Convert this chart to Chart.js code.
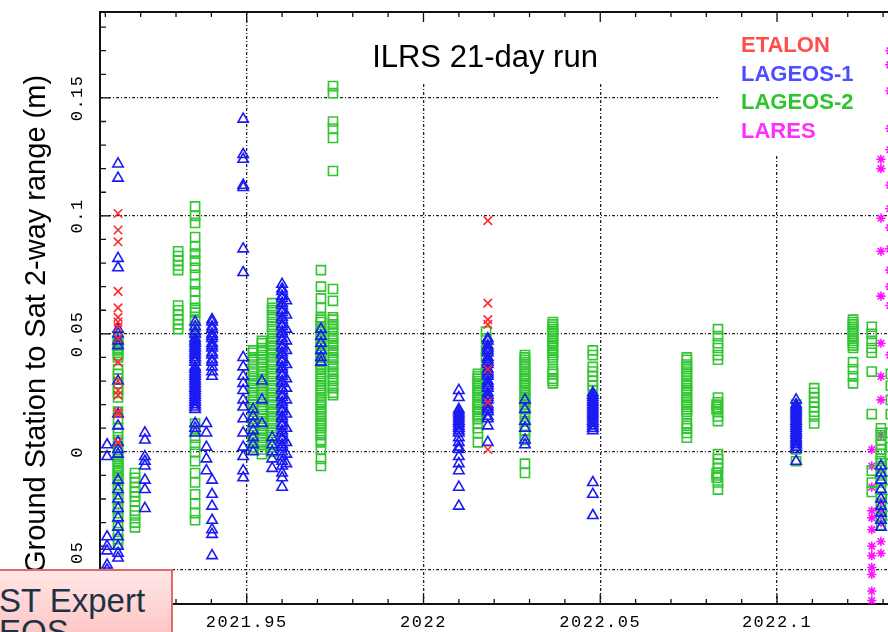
<!DOCTYPE html>
<html>
<head>
<meta charset="utf-8">
<title>ILRS 21-day run</title>
<script src="https://cdn.jsdelivr.net/npm/chart.js@4.4.1/dist/chart.umd.min.js"></script>
<style>
  html, body { margin: 0; padding: 0; background: #fff; overflow: hidden; }
  #wrap { position: relative; width: 888px; height: 632px; overflow: hidden; }
  #chartCanvas { position: absolute; left: 0; top: 0; }
  #badge {
    position: absolute; left: -4px; top: 569px; width: 177px; height: 80px;
    box-sizing: border-box; border: 2px solid #e46a6a;
    background: linear-gradient(#ffe6e6, #ffc0c0);
    font-family: "Liberation Sans", Arial, sans-serif; color: #1d3344;
    font-size: 33px; line-height: 33px; white-space: nowrap;
  }
  #badge span { position: absolute; left: 1px; }
</style>
</head>
<body>
<div id="wrap">
  <canvas id="chartCanvas" width="960" height="632"></canvas>
  <div id="badge"><span style="top:13px">ST Expert</span><span style="top:44px">EOS</span></div>
</div>
<script>
// values: [decimal year, [range residuals in m]]
const etalon = [
  [2021.9136, [0.101, 0.094, 0.089, 0.068, 0.061, 0.057, 0.055, 0.053, 0.048, 0.038, 0.030, 0.026, 0.024, 0.017, 0.016, 0.004]],
  [2022.0182, [0.098, 0.063, 0.056, 0.054, 0.035, 0.021, 0.001]]
];

const lageos1 = [
  [2021.9105, [0.003, -0.002, -0.036, -0.040, -0.042, -0.048, -0.050]],
  [2021.9136, [0.122, 0.116, 0.082, 0.078, 0.052, 0.050, 0.047, 0.045, 0.030, 0.016, 0.011, 0.004, 0.001, -0.001, -0.012, -0.016, -0.020, -0.024, -0.028, -0.032, -0.036, -0.040, -0.043, -0.045]],
  [2021.9212, [0.008, 0.005, -0.002, -0.004, -0.006, -0.012, -0.016, -0.024]],
  [2021.9354, [0.055, 0.053, 0.051, 0.050, 0.048, 0.047, 0.046, 0.045, 0.044, 0.043, 0.042, 0.041, 0.040, 0.039, 0.038, 0.036, 0.035, 0.034, 0.033, 0.032, 0.031, 0.030, 0.029, 0.028, 0.027, 0.026, 0.025, 0.024, 0.023, 0.022, 0.021, 0.020, 0.019, 0.018, 0.012, 0.010, 0.008]],
  [2021.9402, [0.056, 0.055, 0.053, 0.052, 0.050, 0.049, 0.048, 0.046, 0.045, 0.044, 0.042, 0.041, 0.039, 0.038, 0.036, 0.034, 0.032, -0.012, -0.018, -0.023, -0.029, -0.033, -0.035, -0.044]],
  [2021.9386, [0.012, 0.008, 0.002, -0.003, -0.008]],
  [2021.9490, [0.141, 0.126, 0.124, 0.113, 0.112, 0.086, 0.076, 0.040, 0.036, 0.032, 0.029, 0.026, 0.022, 0.019, 0.014, 0.008, 0.002, -0.002, -0.008, -0.011]],
  [2021.9518, [0.018, 0.015, 0.012, 0.009, 0.006, 0.003, 0.000]],
  [2021.9543, [0.030, 0.022, 0.012]],
  [2021.9572, [0.006, 0.003, 0.000, -0.003, -0.007]],
  [2021.9600, [0.071, 0.069, 0.068, 0.066, 0.065, 0.063, 0.062, 0.060, 0.059, 0.057, 0.056, 0.054, 0.053, 0.051, 0.050, 0.048, 0.047, 0.045, 0.044, 0.042, 0.041, 0.039, 0.038, 0.036, 0.035, 0.033, 0.032, 0.030, 0.029, 0.027, 0.026, 0.024, 0.023, 0.021, 0.020, 0.018, 0.017, 0.015, 0.014, 0.012, 0.011, 0.009, 0.008, 0.006, 0.005, 0.003, 0.002, 0.000, -0.002, -0.004, -0.006, -0.009, -0.011, -0.015]],
  [2021.9612, [0.064, 0.058, 0.052, 0.047, 0.043, 0.037, 0.031, 0.027, 0.022, 0.016, 0.010, 0.004, -0.001, -0.005]],
  [2021.9710, [0.052, 0.049, 0.046, 0.043, 0.040, 0.038]],
  [2022.0100, [0.026, 0.023, 0.018, 0.017, 0.016, 0.015, 0.014, 0.013, 0.012, 0.011, 0.010, 0.009, 0.008, 0.006, 0.004, 0.002, 0.001, -0.002, -0.005, -0.008, -0.015, -0.023]],
  [2022.0182, [0.048, 0.047, 0.045, 0.044, 0.043, 0.042, 0.040, 0.039, 0.038, 0.037, 0.035, 0.034, 0.033, 0.032, 0.030, 0.029, 0.028, 0.027, 0.025, 0.024, 0.023, 0.022, 0.020, 0.019, 0.018, 0.017, 0.015, 0.014, 0.011, 0.004]],
  [2022.0287, [0.022, 0.018, 0.013, 0.010, 0.005, 0.003]],
  [2022.0479, [0.025, 0.024, 0.023, 0.022, 0.021, 0.020, 0.019, 0.018, 0.017, 0.016, 0.015, 0.014, 0.013, 0.012, 0.011, 0.010, 0.009, -0.013, -0.018, -0.027]],
  [2022.1054, [0.022, 0.020, 0.019, 0.018, 0.017, 0.016, 0.015, 0.014, 0.013, 0.012, 0.011, 0.010, 0.009, 0.008, 0.007, 0.006, 0.005, 0.004, 0.003, 0.002, 0.001, -0.004]],
  [2022.1294, [-0.006, -0.009, -0.012, -0.016, -0.020, -0.023, -0.026, -0.029, -0.032]]
];

const lageos2 = [
  [2021.9136, [0.048, 0.047, 0.046, 0.045, 0.044, 0.043, 0.042, 0.041, 0.040, 0.035, 0.033, 0.031, 0.029, 0.027, 0.025, 0.023, 0.017, 0.014, 0.010, 0.008, 0.005, 0.002, 0.000, -0.002, -0.003, -0.004, -0.005, -0.006, -0.007, -0.008, -0.009, -0.010, -0.011, -0.012, -0.014, -0.016, -0.018, -0.020, -0.022, -0.024, -0.026, -0.028, -0.031, -0.034, -0.037, -0.039]],
  [2021.9184, [-0.009, -0.011, -0.013, -0.015, -0.017, -0.019, -0.021, -0.025, -0.027, -0.030, -0.032]],
  [2021.9306, [0.085, 0.083, 0.081, 0.079, 0.077, 0.062, 0.060, 0.058, 0.056, 0.054, 0.052]],
  [2021.9354, [0.104, 0.100, 0.097, 0.091, 0.087, 0.084, 0.081, 0.078, 0.075, 0.071, 0.068, 0.064, 0.061, 0.059, 0.056, 0.053, 0.050, 0.047, 0.012, 0.009, 0.006, 0.003, 0.000, -0.004, -0.009, -0.013, -0.018, -0.022, -0.026, -0.029]],
  [2021.9518, [0.043, 0.042, 0.040, 0.039, 0.037, 0.035, 0.034, 0.032, 0.030, 0.029, 0.027, 0.025, 0.024, 0.022, 0.020, 0.019, 0.017, 0.015, 0.014, 0.012, 0.010, 0.009, 0.007, 0.005, 0.004, 0.002, 0.001]],
  [2021.9543, [0.047, 0.046, 0.044, 0.043, 0.041, 0.039, 0.038, 0.036, 0.034, 0.033, 0.031, 0.029, 0.028, 0.026, 0.024, 0.023, 0.021, 0.019, 0.018, 0.016, 0.014, 0.013, 0.011, 0.009, 0.008, 0.006, 0.004, 0.003, 0.001, -0.001]],
  [2021.9572, [0.063, 0.061, 0.060, 0.058, 0.057, 0.055, 0.053, 0.052, 0.050, 0.048, 0.047, 0.045, 0.043, 0.042, 0.040, 0.038, 0.037, 0.035, 0.033, 0.032, 0.030, 0.028, 0.027, 0.025, 0.023, 0.022, 0.020, 0.018, 0.017, 0.015, 0.013, 0.012, 0.010, 0.008, 0.007, 0.005, 0.003, 0.002, 0.000]],
  [2021.9710, [0.077, 0.070, 0.065, 0.061, 0.057, 0.056, 0.055, 0.053, 0.052, 0.051, 0.050, 0.048, 0.047, 0.046, 0.045, 0.043, 0.042, 0.041, 0.040, 0.038, 0.037, 0.036, 0.035, 0.033, 0.032, 0.031, 0.030, 0.028, 0.027, 0.026, 0.025, 0.023, 0.022, 0.021, 0.020, 0.018, 0.017, 0.016, 0.015, 0.013, 0.012, 0.011, 0.010, 0.008, 0.007, 0.005, 0.004, 0.001, -0.003, -0.006]],
  [2021.9744, [0.155, 0.152, 0.140, 0.137, 0.133, 0.119, 0.069, 0.064, 0.057, 0.056, 0.054, 0.052, 0.051, 0.049, 0.048, 0.046, 0.045, 0.043, 0.042, 0.040, 0.039, 0.037, 0.036, 0.034, 0.033, 0.031, 0.030, 0.028, 0.027, 0.025, 0.024]],
  [2022.0154, [0.033, 0.032, 0.031, 0.030, 0.029, 0.028, 0.027, 0.026, 0.025, 0.024, 0.023, 0.022, 0.021, 0.020, 0.019, 0.018, 0.017, 0.016, 0.015, 0.014, 0.012, 0.010, 0.008, 0.004]],
  [2022.0177, [0.051, 0.048, 0.043, 0.040, 0.035, 0.033]],
  [2022.0287, [0.041, 0.040, 0.039, 0.038, 0.037, 0.036, 0.035, 0.034, 0.033, 0.032, 0.031, 0.030, 0.029, 0.028, 0.027, 0.026, 0.025, 0.024, 0.023, 0.022, 0.021, 0.020, 0.019, 0.018, 0.016, 0.013, 0.011, 0.009, 0.007, 0.005, -0.005, -0.009]],
  [2022.0366, [0.055, 0.054, 0.053, 0.052, 0.051, 0.050, 0.049, 0.048, 0.047, 0.046, 0.045, 0.044, 0.043, 0.042, 0.041, 0.040, 0.039, 0.035, 0.034, 0.033, 0.031, 0.030, 0.029]],
  [2022.0479, [0.043, 0.041, 0.036, 0.034, 0.032, 0.030, 0.028, 0.026]],
  [2022.0745, [0.040, 0.039, 0.037, 0.036, 0.035, 0.034, 0.033, 0.032, 0.030, 0.029, 0.028, 0.027, 0.026, 0.025, 0.023, 0.022, 0.021, 0.020, 0.019, 0.018, 0.017, 0.016, 0.012, 0.011, 0.010, 0.008, 0.006]],
  [2022.0833, [0.052, 0.049, 0.046, 0.044, 0.041, 0.039, 0.023, 0.021, 0.019, 0.017, 0.015, 0.013, -0.001, -0.003, -0.005, -0.007, -0.010, -0.013, -0.016]],
  [2022.0829, [0.020, 0.018, -0.009, -0.011]],
  [2022.1054, [0.020, 0.016, 0.012, 0.008, 0.004, 0.001, -0.004]],
  [2022.1105, [0.027, 0.025, 0.023, 0.021, 0.019, 0.017, 0.015, 0.012]],
  [2022.1215, [0.056, 0.055, 0.054, 0.053, 0.052, 0.051, 0.050, 0.049, 0.048, 0.047, 0.046, 0.045, 0.044, 0.038, 0.035, 0.032, 0.029]],
  [2022.1268, [0.053, 0.050, 0.047, 0.044, 0.042, 0.034, 0.016, -0.008, -0.013, -0.017]],
  [2022.1294, [0.010, 0.008, 0.007, 0.005, 0.003, 0.001, -0.001, -0.003, -0.004, -0.006, -0.007, -0.010, -0.013, -0.016, -0.019, -0.022, -0.025, -0.028, -0.031]],
  [2022.1322, [0.033, 0.028, 0.022, 0.016, 0.008, 0.002, -0.005, -0.012, -0.020, -0.027]]
];

const lares = [
  [2022.1268, [0.001, -0.006, -0.015, -0.025, -0.028, -0.033, -0.040, -0.044, -0.049, -0.052, -0.059, -0.063]],
  [2022.1294, [0.124, 0.120, 0.099, 0.085, 0.066, 0.046, 0.032, 0.022, 0.007, -0.021, -0.026, -0.030, -0.038, -0.043]],
  [2022.1319, [0.170, 0.164, 0.153, 0.137, 0.128, 0.113, 0.103, 0.095, 0.086, 0.077, 0.070, 0.062, 0.041]]
];

const seriesNames = ['ETALON', 'LAGEOS-1', 'LAGEOS-2', 'LARES'];
const xTickLabels = ['2021.95', '2022', '2022.05', '2022.1'];
const yTickLabels = ['-0.05', '0', '0.05', '0.1', '0.15'];
const chartTitle = 'ILRS 21-day run';
const yAxisTitle = 'Ground Station to Sat 2-way range (m)';

const seriesColors = ['#ff2a2a', '#1a1af2', '#30c630', '#ff10ff'];
const legendColors = ['#ff4d4d', '#4d4dff', '#2ec42e', '#ff2eff'];

function toPoints(groups) {
  return groups.flatMap(([x, ys]) => ys.map(y => ({ x: x, y: y })));
}

function fmt(v) {
  return String(Math.round(v * 100) / 100);
}

function isMajor(v) {
  return Math.round(v * 100) % 5 === 0;
}

const tickFont = { family: '"Liberation Mono", "DejaVu Sans Mono", monospace', size: 17 };

// frame, inward tick marks, white boxes behind title/legend, texts
const framePlugin = {
  id: 'frame',
  beforeDraw(chart) {
    chart.ctx.letterSpacing = '1.5px';
  },
  beforeDatasetsDraw(chart) {
    const { ctx, chartArea: a, scales } = chart;
    ctx.letterSpacing = '0px';
    ctx.save();
    ctx.fillStyle = '#fff';
    ctx.fillRect(340, a.top + 1, 378, 70);
    ctx.fillRect(718, a.top + 1, a.right - 718, 141);

    ctx.strokeStyle = '#111';
    ctx.lineWidth = 1.3;
    ctx.beginPath();
    scales.x.ticks.forEach(t => {
      const px = scales.x.getPixelForValue(t.value);
      const len = isMajor(t.value) ? 10 : 5;
      ctx.moveTo(px, a.bottom);
      ctx.lineTo(px, a.bottom - len);
      ctx.moveTo(px, a.top);
      ctx.lineTo(px, a.top + len);
    });
    scales.y.ticks.forEach(t => {
      const py = scales.y.getPixelForValue(t.value);
      const len = isMajor(t.value) ? 10 : 6;
      ctx.moveTo(a.left, py);
      ctx.lineTo(a.left + len, py);
    });
    ctx.stroke();

    ctx.lineWidth = 2;
    ctx.strokeRect(a.left, a.top, a.right - a.left, a.bottom - a.top);
    ctx.restore();
  },
  afterDraw(chart) {
    const { ctx } = chart;
    ctx.save();
    ctx.letterSpacing = '0px';
    ctx.fillStyle = '#000';
    ctx.font = '31px "Liberation Sans", Arial, sans-serif';
    ctx.textAlign = 'center';
    ctx.textBaseline = 'alphabetic';
    ctx.fillText(chartTitle, 485, 67);

    ctx.font = 'bold 22px "Liberation Sans", Arial, sans-serif';
    ctx.textAlign = 'left';
    seriesNames.forEach((name, i) => {
      ctx.fillStyle = legendColors[i];
      ctx.fillText(name, 741, 52 + i * 28.5);
    });

    ctx.fillStyle = '#000';
    ctx.font = '29px "Liberation Sans", Arial, sans-serif';
    ctx.translate(45, 324);
    ctx.rotate(-Math.PI / 2);
    ctx.textAlign = 'center';
    ctx.fillText(yAxisTitle, 0, 0);
    ctx.restore();
  }
};

const markerStyles = [
  { pointStyle: 'crossRot', pointRadius: 6 },
  { pointStyle: 'triangle', pointRadius: 6 },
  { pointStyle: 'rect', pointRadius: 6.4 },
  { pointStyle: 'star', pointRadius: 4.6 }
];

const allSeries = [etalon, lageos1, lageos2, lares];

const chartCanvas = document.getElementById('chartCanvas');

const chart = new Chart(chartCanvas, {
  type: 'scatter',
  data: {
    datasets: allSeries.map((groups, i) => ({
      label: seriesNames[i],
      data: toPoints(groups),
      pointStyle: markerStyles[i].pointStyle,
      pointRadius: markerStyles[i].pointRadius,
      pointBorderWidth: 1.6,
      borderColor: seriesColors[i],
      backgroundColor: 'rgba(0,0,0,0)',
      pointHoverRadius: markerStyles[i].pointRadius
    }))
  },
  options: {
    responsive: false,
    animation: false,
    devicePixelRatio: 1,
    layout: { padding: { top: 12, right: 20, left: 0, bottom: 0 } },
    plugins: {
      legend: { display: false },
      tooltip: { enabled: false }
    },
    scales: {
      x: {
        type: 'linear',
        min: 2021.9085,
        max: 2022.1461,
        afterFit: s => { s.height = 28; },
        ticks: {
          stepSize: 0.01,
          includeBounds: false,
          autoSkip: false,
          maxRotation: 0,
          minRotation: 0,
          padding: 8,
          color: '#000',
          font: tickFont,
          callback: v => xTickLabels.includes(fmt(v)) ? fmt(v) : ''
        },
        grid: {
          drawTicks: false,
          lineWidth: 1.3,
          color: c => isMajor(c.tick.value) ? '#222' : 'rgba(0,0,0,0)'
        },
        border: { display: false, dash: [3, 2, 1, 2] }
      },
      y: {
        type: 'linear',
        min: -0.0645,
        max: 0.1864,
        afterFit: s => { s.width = 100; },
        ticks: {
          stepSize: 0.01,
          includeBounds: false,
          autoSkip: false,
          minRotation: 90,
          maxRotation: 90,
          crossAlign: 'center',
          padding: -3,
          color: '#000',
          font: tickFont,
          callback: v => yTickLabels.includes(fmt(v)) ? fmt(v) : ''
        },
        grid: {
          drawTicks: false,
          lineWidth: 1.3,
          color: c => isMajor(c.tick.value) ? '#222' : 'rgba(0,0,0,0)'
        },
        border: { display: false, dash: [3, 2, 1, 2] }
      }
    }
  },
  plugins: [framePlugin]
});
</script>
</body>
</html>
